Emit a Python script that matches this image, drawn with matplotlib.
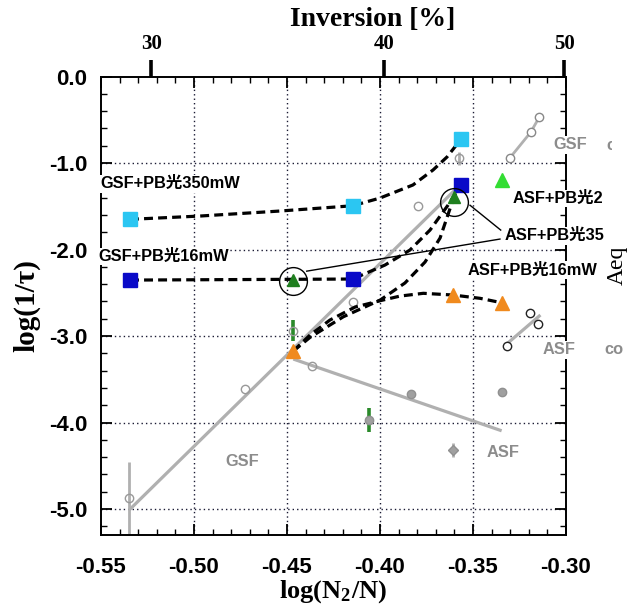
import numpy as np
import matplotlib
matplotlib.use("Agg")
import matplotlib.pyplot as plt
from matplotlib.ticker import MultipleLocator, FormatStrFormatter, FixedLocator
from matplotlib.transforms import Bbox

plt.rcParams["axes.unicode_minus"] = False
plt.rcParams["mathtext.fontset"] = "stix"

SANS = ["Liberation Sans", "Noto Sans CJK SC", "DejaVu Sans"]
SERIF = ["Liberation Serif", "DejaVu Serif"]

# ---- PB-light measurements: log(N2/N) vs log(1/tau) ----
gsf350_x = [-0.5344, -0.4147, -0.3565]
gsf350_y = [-1.651, -1.494, -0.726]
gsf16_x = [-0.5344, -0.4147, -0.3565]
gsf16_y = [-2.353, -2.341, -1.258]
asf350_x = [-0.4466, -0.3602]
asf350_y = [-2.353, -1.390]
asf2_x = [-0.3342]
asf2_y = [-1.197]
asf16_x = [-0.4466, -0.3606, -0.3346]
asf16_y = [-3.173, -2.526, -2.615]

# ---- guide curves through the PB-light series ----
c350_x = [-0.5344, -0.4968, -0.4538, -0.4147, -0.4000, -0.3823, -0.3715, -0.3640, -0.3565]
c350_y = [-1.651, -1.613, -1.555, -1.494, -1.405, -1.254, -1.081, -0.931, -0.726]
c16_x = [-0.5344, -0.4147, -0.3973, -0.3839, -0.3731, -0.3634, -0.3565]
c16_y = [-2.353, -2.341, -2.179, -2.006, -1.775, -1.486, -1.258]
ca350_x = [-0.4466, -0.4376, -0.4197, -0.3999, -0.3866, -0.3758, -0.3677, -0.3602]
ca350_y = [-3.173, -3.015, -2.777, -2.584, -2.387, -2.145, -1.867, -1.390]
ca16_x = [-0.4466, -0.4376, -0.4269, -0.4134, -0.4000, -0.3892, -0.3767, -0.3606, -0.3462, -0.3346]
ca16_y = [-3.173, -2.988, -2.815, -2.665, -2.592, -2.538, -2.506, -2.526, -2.564, -2.615]

# ---- GSF / ASF decay data (grey) ----
gsf_x = [-0.5348, -0.4726, -0.4466, -0.4147, -0.3794, -0.3574]
gsf_y = [-4.870, -3.613, -2.939, -2.610, -1.497, -0.946]
gsf_fit_x = [-0.5348, -0.3597]
gsf_fit_y = [-5.010, -1.312]
gsfco_x = [-0.3301, -0.3190, -0.3144]
gsfco_y = [-0.939, -0.645, -0.472]

asf_open_x = [-0.4367]
asf_open_y = [-3.347]
asf_fill_x = [-0.3835, -0.3346, -0.4058]
asf_fill_y = [-3.671, -3.651, -3.971]
asf_dia_x = [-0.3606]
asf_dia_y = [-4.318]
asf_fit_x = [-0.4466, -0.3346]
asf_fit_y = [-3.266, -4.095]
asfco_x = [-0.3315, -0.3194, -0.3149]
asfco_y = [-3.120, -2.738, -2.861]
asfco_fit_x = [-0.3315, -0.3144]
asfco_fit_y = [-3.085, -2.769]

# error bars
gerr_x = [-0.5348, -0.3574, -0.3606]
gerr_lo = [-5.40, -1.02, -4.40]
gerr_hi = [-4.46, -0.87, -4.24]
green_err_x = [-0.4466, -0.4058]
green_err_lo = [-3.06, -4.11]
green_err_hi = [-2.82, -3.83]

# circled points and their pointer lines
ring_x = [-0.4466, -0.3602]
ring_y = [-2.36, -1.449]
ptr1_x = [-0.4394, -0.3355]
ptr1_y = [-2.250, -1.879]
ptr2_x = [-0.3516, -0.3351]
ptr2_y = [-1.488, -1.775]

top_ticks = [30, 40, 50]

fig = plt.figure(figsize=(6.3, 6.13), dpi=100)
ax = fig.add_axes([0.1603, 0.1272, 0.7381, 0.7480])
ax.set_xlim(-0.55, -0.30)
ax.set_ylim(-5.30, 0.0)

# dotted grid
for gx in [-0.50, -0.45, -0.40, -0.35]:
    ax.axvline(gx, color="#1a1a33", lw=1.0, ls=(0, (1, 2.2)), zorder=1)
for gy in [-1, -2, -3, -4, -5]:
    ax.axhline(gy, color="#1a1a33", lw=1.0, ls=(0, (1, 2.2)), zorder=1)

grey = "#b0b0b0"
# grey fits
ax.plot(gsf_fit_x, gsf_fit_y, color=grey, lw=2.3, zorder=2, solid_capstyle="butt")
ax.plot(asf_fit_x, asf_fit_y, color=grey, lw=2.3, zorder=2, solid_capstyle="butt")
ax.plot(asfco_fit_x, asfco_fit_y, color=grey, lw=2.3, zorder=2)
ax.plot(gsfco_x, gsfco_y, color=grey, lw=2.0, zorder=2)

# error bars
ax.vlines(gerr_x, gerr_lo, gerr_hi, color=grey, lw=2.0, zorder=2)
ax.vlines(green_err_x, green_err_lo, green_err_hi, color="#2a8a2a", lw=2.6, zorder=3)

# grey points
ax.plot(gsf_x, gsf_y, "o", ms=6, mfc="none", mec="#999999", mew=1.0, zorder=3)
ax.plot(gsfco_x, gsfco_y, "o", ms=6, mfc="white", mec="#888888", mew=1.0, zorder=3)
ax.plot(asf_open_x, asf_open_y, "o", ms=6, mfc="none", mec="#999999", mew=1.0, zorder=3)
ax.plot(asf_fill_x, asf_fill_y, "o", ms=6, mfc="#a0a0a0", mec="#909090", mew=1.0, zorder=3)
ax.plot(asf_dia_x, asf_dia_y, "D", ms=5, mfc="#a0a0a0", mec="#909090", mew=1.0, zorder=3)
ax.plot(asfco_x, asfco_y, "o", ms=6, mfc="white", mec="#222222", mew=1.0, zorder=3)

# dashed guide curves
dash = dict(color="black", lw=2.3, ls=(0, (2.8, 1.6)), zorder=4)
ax.plot(c350_x, c350_y, **dash)
ax.plot(c16_x, c16_y, **dash)
ax.plot(ca350_x, ca350_y, **dash)
ax.plot(ca16_x, ca16_y, **dash)

# PB-light markers
ax.plot(gsf350_x, gsf350_y, "s", ms=9.5, color="#2bc6f2", mec="#2bc6f2", zorder=5)
ax.plot(gsf16_x, gsf16_y, "s", ms=9.5, color="#0a0ac8", mec="#0a0ac8", zorder=5)
ax.plot(asf350_x, asf350_y, "^", ms=9, color="#1f7f1f", mec="#1f7f1f", zorder=5)
ax.plot(asf2_x, asf2_y, "^", ms=10, color="#33dd33", mec="#33dd33", zorder=5)
ax.plot(asf16_x, asf16_y, "^", ms=9.5, color="#f08a1e", mec="#f08a1e", zorder=5)

# rings and pointer lines
ax.plot(ring_x, ring_y, "o", ms=20, mfc="none", mec="black", mew=1.0, zorder=6)
ax.plot(ptr1_x, ptr1_y, color="black", lw=1.0, zorder=6)
ax.plot(ptr2_x, ptr2_y, color="black", lw=1.0, zorder=6)

# labels
box = dict(facecolor="white", edgecolor="none", pad=1.0)
lab = dict(family=SANS, fontsize=11.8, fontweight="bold", color="black",
           ha="left", va="center", bbox=box, zorder=7, clip_on=False)
ax.text(-0.5505, -1.24, "GSF+PB光350mW", **lab)
ax.text(-0.5516, -2.08, "GSF+PB光16mW", **lab)
ax.text(-0.3285, -1.41, "ASF+PB光2", **lab)
ax.text(-0.3328, -1.84, "ASF+PB光35", **lab)
ax.text(-0.3527, -2.24, "ASF+PB光16mW", **lab)

glab = dict(family=SANS, fontsize=11.8, fontweight="bold", color="#8c8c8c",
            ha="left", va="center", bbox=box, zorder=7, clip_on=False)
ax.text(-0.3070, -0.79, "GSF", **glab)
ax.text(-0.3124, -3.16, "ASF", **glab)
ax.text(-0.4742, -4.45, "GSF", **dict(glab, ha="center"))
ax.text(-0.3339, -4.35, "ASF", **dict(glab, ha="center"))

# trailing "co" tags at the right border (the upper one is cut off)
co_style = dict(family=SANS, fontsize=11.8, fontweight="bold", color="#8c8c8c",
                ha="left", va="center")
fig.text(604 / 630, 1 - 349 / 613, "co", **co_style)
t_up = fig.text(606 / 630, 1 - 146 / 613, "co", **co_style)
t_up.set_clip_box(Bbox.from_extents(0, 0, 612, 613))
t_up.set_clip_on(True)

# axes formatting
for s in ax.spines.values():
    s.set_linewidth(1.4)
    s.set_zorder(6.5)
ax.xaxis.set_major_locator(MultipleLocator(0.05))
ax.xaxis.set_minor_locator(MultipleLocator(0.01))
ax.yaxis.set_major_locator(MultipleLocator(1.0))
ax.yaxis.set_minor_locator(MultipleLocator(0.2))
ax.xaxis.set_major_formatter(FormatStrFormatter("%.2f"))
ax.yaxis.set_major_formatter(FormatStrFormatter("%.1f"))
ax.tick_params(which="both", direction="in", top=True, right=True)
ax.tick_params(which="major", length=8, width=1.3, labelsize=16)
ax.tick_params(axis="x", which="major", pad=16)
ax.tick_params(axis="y", which="major", pad=10)
ax.tick_params(which="minor", length=4.5, width=1.0)
for t in ax.get_xticklabels() + ax.get_yticklabels():
    t.set_family(SANS)
    t.set_fontweight("bold")

ax.set_xlabel(r"log(N$_{\mathregular{2}}$/N)", family=SERIF, fontsize=19,
              fontweight="bold", labelpad=0)
ax.set_ylabel("log(1/τ)", family=SERIF, fontsize=21, fontweight="bold", labelpad=6)

# inversion scale on top
sec = ax.secondary_xaxis("top", functions=(lambda v: 100.0 * np.power(10.0, v),
                                           lambda p: np.log10(np.clip(p, 1e-6, None) / 100.0)))
sec.xaxis.set_major_locator(FixedLocator(top_ticks))
sec.xaxis.set_minor_locator(FixedLocator([]))
sec.tick_params(direction="out", length=12, width=2.6, labelsize=15, pad=4)
for t in sec.get_xticklabels():
    t.set_family(SERIF)
    t.set_fontweight("bold")
sec.spines["top"].set_visible(False)

fig.text(373 / 630, 1 - 20 / 613, "Inversion [%]", family=SERIF, fontsize=20,
         fontweight="bold", ha="center", va="center")
fig.text(617 / 630, 1 - 265 / 613, "Aeq", family=SERIF, fontsize=17,
         rotation=90, ha="center", va="center")

fig.savefig("out.png", dpi=100)
